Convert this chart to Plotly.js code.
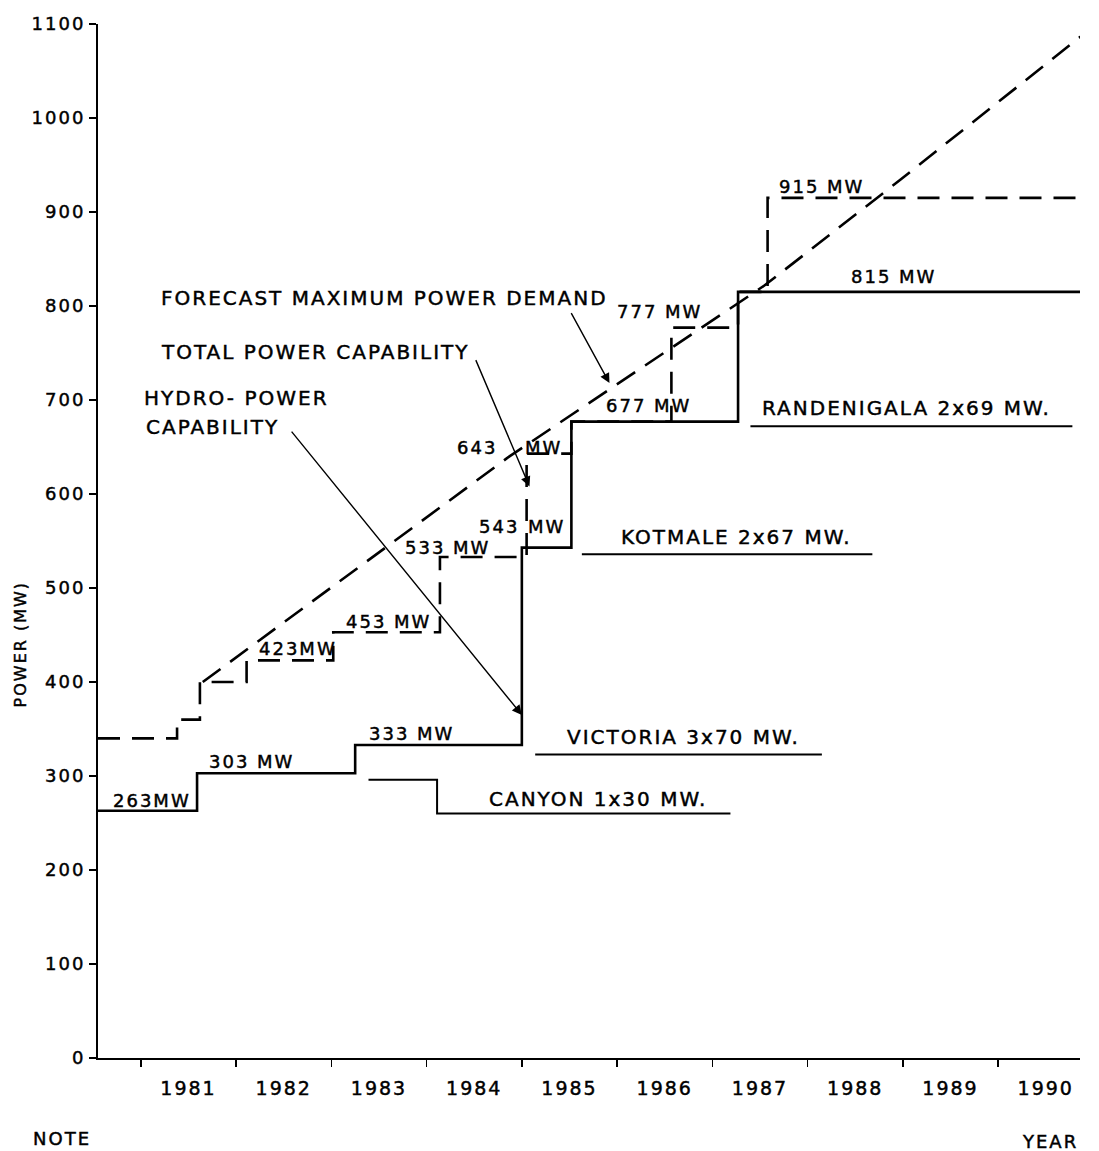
<!DOCTYPE html>
<html>
<head>
<meta charset="utf-8">
<script src="https://cdn.plot.ly/plotly-3.0.1.min.js"></script>
<style>
  html, body { margin: 0; padding: 0; background: #fff; }
  #chart { width: 1099px; height: 1151px; }
  #chart svg text { letter-spacing: 2px; stroke: #000; stroke-width: 0.45px; }
</style>
</head>
<body>
<div id="chart"></div>
<script>
// ---- data ----
const yearBoundaries = [1981, 1982, 1983, 1984, 1985, 1986, 1987, 1988, 1989, 1990];
const yearCenters = [1981.5, 1982.5, 1983.5, 1984.5, 1985.5, 1986.5, 1987.5, 1988.5, 1989.5, 1990.5];
const yearLabels = ['1981', '1982', '1983', '1984', '1985', '1986', '1987', '1988', '1989', '1990'];

// Forecast maximum power demand (dashed rising line)
const demandX = [1981.65, 1984.87, 1987.55, 1988.97, 1991.02];
const demandY = [400, 640, 822, 934, 1099];

// Total power capability (dashed step line)
const totalX = [1980.55, 1981.38, 1981.62, 1982.11, 1983.02, 1984.14, 1985.05, 1985.52, 1986.57, 1987.27, 1987.58, 1991.0];
const totalY = [340, 360, 400, 423, 453, 533, 643, 677, 777, 815, 915, 915];

// Hydro-power capability (solid step line)
const hydroX = [1980.55, 1981.59, 1983.25, 1985.00, 1985.52, 1987.27, 1991.0];
const hydroY = [263, 303, 333, 543, 677, 815, 815];

// Project marker lines (capability without each project)
const canyonX = [1983.39, 1984.11, 1987.19];
const canyonY = [296, 260, 260];
const victoriaX = [1985.14, 1988.15];
const victoriaY = [323, 323];
const kotmaleX = [1985.63, 1988.68];
const kotmaleY = [536, 536];
const randenigalaX = [1987.40, 1990.78];
const randenigalaY = [672, 672];

const FONT = 'DejaVu Sans, Liberation Sans, sans-serif';
const DASH = '22px,12px';

const traces = [
  {x: totalX, y: totalY, mode: 'lines', line: {shape: 'hv', color: '#000', width: 2.6, dash: DASH}, name: 'Total power capability'},
  {x: demandX, y: demandY, mode: 'lines', line: {color: '#000', width: 2.6, dash: DASH}, name: 'Forecast maximum power demand'},
  {x: hydroX, y: hydroY, mode: 'lines', line: {shape: 'hv', color: '#000', width: 2.6}, name: 'Hydro-power capability'},
  {x: canyonX, y: canyonY, mode: 'lines', line: {shape: 'hv', color: '#000', width: 2}, name: 'Canyon'},
  {x: victoriaX, y: victoriaY, mode: 'lines', line: {color: '#000', width: 2}, name: 'Victoria'},
  {x: kotmaleX, y: kotmaleY, mode: 'lines', line: {color: '#000', width: 2}, name: 'Kotmale'},
  {x: randenigalaX, y: randenigalaY, mode: 'lines', line: {color: '#000', width: 2}, name: 'Randenigala'}
];

function txt(text, x, y, size) {
  return {
    text: text, x: x, y: y, xref: 'x', yref: 'y', showarrow: false,
    xanchor: 'center', yanchor: 'middle',
    font: {family: FONT, size: size || 18, color: '#000'}
  };
}
function arrow(x, y, ax, ay) {
  return {
    text: '', x: x, y: y, ax: ax, ay: ay, xref: 'x', yref: 'y', axref: 'x', ayref: 'y',
    showarrow: true, arrowhead: 2, arrowsize: 1.4, arrowwidth: 1.4, arrowcolor: '#000', standoff: 0, startstandoff: 0
  };
}

const annotations = [
  txt('263MW', 1981.12, 274),
  txt('303 MW', 1982.17, 315),
  txt('333 MW', 1983.85, 345),
  txt('423MW', 1982.65, 436),
  txt('453 MW', 1983.60, 464),
  txt('533 MW', 1984.22, 543),
  txt('543', 1984.76, 565),
  txt('MW', 1985.26, 565),
  txt('643', 1984.53, 650),
  txt('MW', 1985.23, 650),
  txt('677 MW', 1986.33, 694),
  txt('777 MW', 1986.45, 794),
  txt('815 MW', 1988.91, 831),
  txt('915 MW', 1988.15, 927),
  txt('RANDENIGALA 2x69 MW.', 1989.04, 691, 20),
  txt('KOTMALE 2x67 MW.', 1987.25, 554, 20),
  txt('VICTORIA 3x70 MW.', 1986.70, 342, 20),
  txt('CANYON 1x30 MW.', 1985.80, 276, 20),
  txt('FORECAST MAXIMUM POWER DEMAND', 1983.56, 809, 20),
  txt('TOTAL POWER CAPABILITY', 1982.83, 751, 20),
  txt('HYDRO- POWER', 1982.00, 702, 20),
  txt('CAPABILITY', 1981.76, 671, 20),
  arrow(1985.92, 718, 1985.51, 794),
  arrow(1985.08, 608, 1984.51, 744),
  arrow(1985.00, 365, 1982.57, 668),
  {text: 'POWER (MW)', xref: 'paper', yref: 'paper', x: -0.0794, y: 0.40, showarrow: false,
   textangle: -90, xanchor: 'center', yanchor: 'middle', font: {family: FONT, size: 16, color: '#000'}},
  {text: 'YEAR', xref: 'paper', yref: 'paper', x: 0.9695, y: -0.0812, showarrow: false,
   xanchor: 'center', yanchor: 'middle', font: {family: FONT, size: 18, color: '#000'}},
  {text: 'NOTE', xref: 'paper', yref: 'paper', x: -0.0367, y: -0.0774, showarrow: false,
   xanchor: 'center', yanchor: 'middle', font: {family: FONT, size: 18, color: '#000'}}
];

const layout = {
  width: 1099, height: 1151,
  margin: {l: 98, r: 19, t: 24, b: 93},
  paper_bgcolor: '#fff', plot_bgcolor: '#fff',
  showlegend: false,
  font: {family: FONT, color: '#000'},
  xaxis: {
    range: [1980.55, 1990.86],
    tickmode: 'array', tickvals: yearCenters, ticktext: yearLabels,
    ticks: '', showgrid: false, zeroline: false,
    showline: true, linecolor: '#000', linewidth: 2,
    tickfont: {family: FONT, size: 19, color: '#000'},
    ticklabelstandoff: 12,
    minor: {tickmode: 'array', tickvals: yearBoundaries, ticks: 'outside', ticklen: 7, tickwidth: 1.5, tickcolor: '#000', showgrid: false}
  },
  yaxis: {
    range: [0, 1100],
    tickmode: 'linear', tick0: 0, dtick: 100,
    ticks: 'outside', ticklen: 7, tickwidth: 1.5, tickcolor: '#000',
    showgrid: false, zeroline: false,
    showline: true, linecolor: '#000', linewidth: 2,
    tickfont: {family: FONT, size: 18, color: '#000'}
  },
  annotations: annotations
};

Plotly.newPlot('chart', traces, layout, {staticPlot: true});
</script>
</body>
</html>
